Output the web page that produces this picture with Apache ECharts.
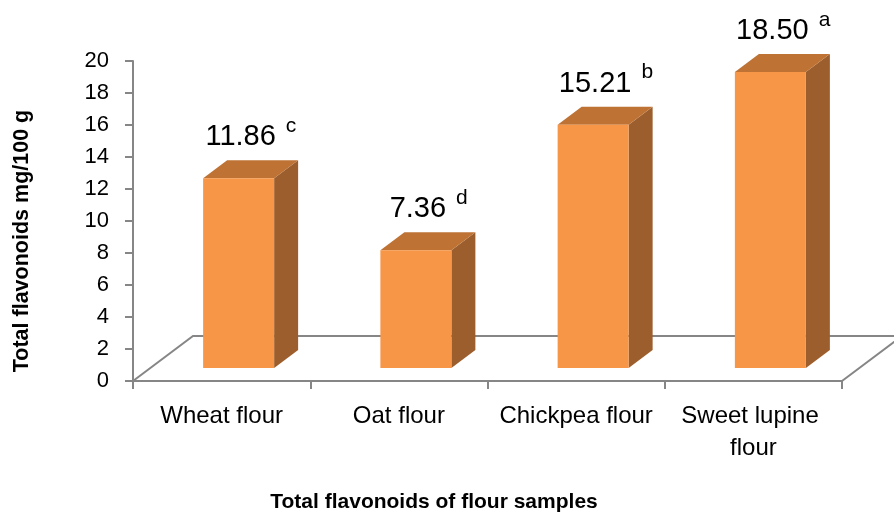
<!DOCTYPE html>
<html>
<head>
<meta charset="utf-8">
<title>Total flavonoids of flour samples</title>
<script src="https://cdn.jsdelivr.net/npm/echarts@6/dist/echarts.min.js"></script>
</head>
<body style="margin:0">
<div id="main" style="width:894px;height:515px;"></div>
<script type="text/javascript">
// data
var categories = ['Wheat flour', 'Oat flour', 'Chickpea flour', 'Sweet lupine flour'];
var values = [11.86, 7.36, 15.21, 18.50];
var letters = ['c', 'd', 'b', 'a'];
var yMin = 0, yMax = 20, yStep = 2;

var FONT = '"Liberation Sans", Arial, sans-serif';
var axisGrey = '#868686';

// 3D look (in px): bars sit a bit behind the front axis plane
var floorDx = 60, floorDy = -45;
var barFx = 17, barFy = -13;
var barDx = 24, barDy = -18;
var barW = 71;

var measureCtx = document.createElement('canvas').getContext('2d');
function textWidth(str, size) {
    measureCtx.font = size + 'px ' + FONT;
    return measureCtx.measureText(str).width;
}

var myChart = echarts.init(document.getElementById('main'));

function renderFloor(params, api) {
    var cs = params.coordSys;
    var x0 = cs.x, x1 = cs.x + cs.width, y0 = cs.y + cs.height;
    return {
        type: 'polyline',
        shape: { points: [[x0, y0], [x0 + floorDx, y0 + floorDy], [x1 + floorDx, y0 + floorDy], [x1, y0]] },
        style: { stroke: axisGrey, lineWidth: 2, fill: null }
    };
}

function renderBar(params, api) {
    var i = api.value(0);
    var v = api.value(1);
    var base = api.coord([i, 0]);
    var top = api.coord([i, v]);
    var x0 = base[0] + barFx - barW / 2, x1 = x0 + barW;
    var yb = base[1] + barFy, yt = top[1] + barFy;
    var cx = x0 + barW / 2 + 2;
    var num = v.toFixed(2);
    var nw = textWidth(num, 29);
    var labelY = yt - 41;
    return {
        type: 'group',
        children: [
            {
                type: 'polygon',
                shape: { points: [[x1, yt], [x1 + barDx, yt + barDy], [x1 + barDx, yb + barDy], [x1, yb]] },
                style: { fill: '#9C5E2C' }
            },
            {
                type: 'polygon',
                shape: { points: [[x0, yt], [x0 + barDx, yt + barDy], [x1 + barDx, yt + barDy], [x1, yt]] },
                style: { fill: '#BE7234' }
            },
            {
                type: 'rect',
                shape: { x: x0, y: yt, width: barW, height: yb - yt },
                style: { fill: '#F79646' }
            },
            {
                type: 'text',
                style: { text: num, x: cx, y: labelY, fontSize: 29, fontFamily: FONT, fill: '#000', align: 'center', verticalAlign: 'middle' }
            },
            {
                type: 'text',
                style: { text: letters[params.dataIndex], x: cx + nw / 2 + 10, y: labelY - 11, fontSize: 21, fontFamily: FONT, fill: '#000', align: 'left', verticalAlign: 'middle' }
            }
        ]
    };
}

var barData = [];
for (var i = 0; i < values.length; i++) {
    barData.push([i, values[i]]);
}

var option = {
    animation: false,
    grid: { left: 133, right: 52, top: 61, bottom: 134 },
    xAxis: {
        type: 'category',
        data: categories,
        axisLine: { lineStyle: { color: axisGrey, width: 2 } },
        axisTick: { show: true, length: 8, lineStyle: { color: axisGrey, width: 2 } },
        axisLabel: {
            interval: 0, margin: 19, fontSize: 24, lineHeight: 32, color: '#000', fontFamily: FONT,
            width: 170, overflow: 'break'
        }
    },
    yAxis: {
        type: 'value',
        min: yMin,
        max: yMax,
        interval: yStep,
        splitLine: { show: false },
        axisLine: { show: true, lineStyle: { color: axisGrey, width: 2 } },
        axisTick: { show: true, length: 8, lineStyle: { color: axisGrey, width: 2 } },
        axisLabel: { margin: 24, fontSize: 22, color: '#000', fontFamily: FONT }
    },
    graphic: [
        {
            type: 'text', x: 22, y: 241, rotation: Math.PI / 2,
            style: { text: 'Total flavonoids mg/100 g', fontSize: 21.5, fontWeight: 'bold', fontFamily: FONT, fill: '#000', align: 'center', verticalAlign: 'middle' }
        },
        {
            type: 'text', x: 434, y: 502,
            style: { text: 'Total flavonoids of flour samples', fontSize: 21, fontWeight: 'bold', fontFamily: FONT, fill: '#000', align: 'center', verticalAlign: 'middle' }
        }
    ],
    series: [
        { type: 'custom', z: 1, clip: false, renderItem: renderFloor, data: [[0, 0]], silent: true },
        { type: 'custom', z: 2, clip: false, renderItem: renderBar, data: barData }
    ]
};

myChart.setOption(option);
</script>
</body>
</html>
